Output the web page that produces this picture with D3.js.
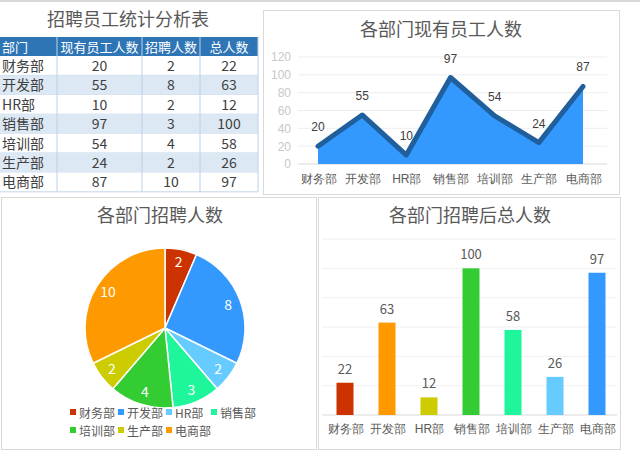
<!DOCTYPE html>
<html><head><meta charset="utf-8">
<script src="https://cdn.jsdelivr.net/npm/d3@7/dist/d3.min.js"></script>
<style>body{margin:0;background:#fff;}svg{display:block;font-family:"Noto Sans CJK SC","Noto Sans",sans-serif;}</style>
</head><body>
<svg id="c" width="640" height="457"></svg>
<script>
const depts = ["财务部","开发部","HR部","销售部","培训部","生产部","电商部"];
const current = [20,55,10,97,54,24,87];
const hired = [2,8,2,3,4,2,10];
const totals = [22,63,12,100,58,26,97];
const headers = ["部门","现有员工人数","招聘人数","总人数"];
const yTicks = [0,20,40,60,80,100,120];
const pieColors = ["#cc3300","#3399ff","#66ccff","#1ff59a","#33cc33","#cccc00","#ff9900"];
const barColors = ["#cc3300","#ff9900","#cccc00","#33cc33","#1ff59a","#66ccff","#3399ff"];

const svg = d3.select("#c");
svg.append("rect").attr("x",0).attr("y",0).attr("width",640).attr("height",2).attr("fill","#d9d9d9");

// ---------- Table ----------
const tg = svg.append("g");
tg.append("text").attr("x",128).attr("y",26).attr("text-anchor","middle")
  .attr("font-size",18).attr("fill","#595959").text("招聘员工统计分析表");
const colX = [0,57,142,200,258];
const rowY0 = 37, hdrH = 19, rowH = 19.4;
tg.append("rect").attr("x",0).attr("y",rowY0).attr("width",258).attr("height",hdrH).attr("fill","#2e75b6");
headers.forEach((h,i)=>{
  tg.append("text").attr("x", i===0?2:(colX[i]+colX[i+1])/2).attr("y",rowY0+14.5)
    .attr("text-anchor", i===0?"start":"middle").attr("font-size",13).attr("fill","#fff").text(h);
});
depts.forEach((d,r)=>{
  const y = rowY0+hdrH+r*rowH;
  tg.append("rect").attr("x",0).attr("y",y).attr("width",258).attr("height",rowH)
    .attr("fill", r%2===1?"#dde8f5":"#fff");
  const vals=[d,current[r],hired[r],totals[r]];
  vals.forEach((v,i)=>{
    tg.append("text").attr("x", i===0?2:(colX[i]+colX[i+1])/2).attr("y",y+15)
      .attr("text-anchor", i===0?"start":"middle").attr("font-size",14).attr("fill","#404040").text(v);
  });
  tg.append("line").attr("x1",0).attr("x2",258).attr("y1",y+rowH).attr("y2",y+rowH).attr("stroke","#c5d6ea").attr("stroke-width",1);
});
[57,142,200].forEach(x=>{
  tg.append("line").attr("x1",x).attr("x2",x).attr("y1",rowY0).attr("y2",rowY0+hdrH+7*rowH).attr("stroke","#bdd0e6");
});
tg.append("line").attr("x1",258).attr("x2",258).attr("y1",rowY0).attr("y2",rowY0+hdrH+7*rowH).attr("stroke","#bdd0e6");

// ---------- Line/area chart ----------
const lg = svg.append("g");
lg.append("rect").attr("x",263.5).attr("y",10.5).attr("width",356).attr("height",184).attr("fill","#fff").attr("stroke","#d9d9d9");
lg.append("text").attr("x",441).attr("y",36).attr("text-anchor","middle").attr("font-size",18).attr("fill","#595959").text("各部门现有员工人数");
const lx = d3.scalePoint().domain(depts).range([318,583]);
const ly = d3.scaleLinear().domain([0,120]).range([164,57]);
yTicks.forEach(t=>{
  lg.append("line").attr("x1",298).attr("x2",607).attr("y1",ly(t)).attr("y2",ly(t)).attr("stroke", t===0?"#d9d9d9":"#eeeeee");
});
const yAxis = d3.axisLeft(ly).tickValues(yTicks).tickSize(0).tickPadding(0);
const ya = lg.append("g").attr("transform","translate(291,0)").call(yAxis);
ya.select(".domain").remove();
ya.selectAll("text").attr("font-size",12).attr("fill","#c8c8c8").attr("font-family","Liberation Sans, sans-serif");
const area = d3.area().x((d,i)=>lx(depts[i])).y0(ly(0)).y1(d=>ly(d));
lg.append("path").datum(current).attr("d",area).attr("fill","#3399ff");
const line = d3.line().x((d,i)=>lx(depts[i])).y(d=>ly(d));
lg.append("path").datum(current).attr("d",line).attr("fill","none").attr("stroke","#1f5f9c").attr("stroke-width",5).attr("stroke-linejoin","round").attr("stroke-linecap","round");
current.forEach((v,i)=>{
  lg.append("text").attr("x",lx(depts[i])).attr("y",ly(v)-15).attr("text-anchor","middle").attr("font-size",12)
    .attr("font-family","Liberation Sans, sans-serif").attr("fill","#404040").text(v);
});
const xa = lg.append("g").attr("transform","translate(0,164)").call(d3.axisBottom(lx).tickSize(0).tickPadding(10));
xa.select(".domain").remove();
xa.selectAll("text").attr("font-size",12).attr("fill","#595959");

// ---------- Pie ----------
const pg = svg.append("g");
pg.append("rect").attr("x",1.5).attr("y",197.5).attr("width",315).attr("height",252).attr("fill","#fff").attr("stroke","#d9d9d9");
pg.append("text").attr("x",160).attr("y",222).attr("text-anchor","middle").attr("font-size",18).attr("fill","#595959").text("各部门招聘人数");
const pie = d3.pie().sort(null).value(d=>d);
const arcs = pie(hired);
const r = 80;
const arc = d3.arc().innerRadius(0).outerRadius(r);
const labelArc = d3.arc().innerRadius(r*0.84).outerRadius(r*0.84);
const pc = pg.append("g").attr("transform","translate(165,328)");
pc.selectAll("path").data(arcs).join("path").attr("d",arc).attr("fill",(d,i)=>pieColors[i]).attr("stroke","#fff").attr("stroke-width",1.5);
pc.selectAll("text").data(arcs).join("text").attr("transform",d=>`translate(${labelArc.centroid(d)})`)
  .attr("text-anchor","middle").attr("dy","0.35em").attr("font-size",14).attr("fill","#fff").text(d=>d.data);
const legRows = [[0,1,2,3],[4,5,6]];
const legX = [[70,118,166,211],[70,118,166]];
legRows.forEach((row,ri)=>{
  row.forEach((idx,j)=>{
    const x = legX[ri][j], y = 413+ri*18;
    pg.append("rect").attr("x",x).attr("y",y-4).attr("width",6).attr("height",6).attr("fill",pieColors[idx]);
    pg.append("text").attr("x",x+9).attr("y",y+4.5).attr("font-size",12).attr("fill","#595959").text(depts[idx]);
  });
});

// ---------- Bar chart ----------
const bg = svg.append("g");
bg.append("rect").attr("x",318.5).attr("y",197.5).attr("width",302).attr("height",252).attr("fill","#fff").attr("stroke","#d9d9d9");
bg.append("text").attr("x",470).attr("y",222).attr("text-anchor","middle").attr("font-size",18).attr("fill","#595959").text("各部门招聘后总人数");
const by = d3.scaleLinear().domain([0,120]).range([415,239]);
yTicks.forEach(t=>{
  bg.append("line").attr("x1",322).attr("x2",617).attr("y1",by(t)).attr("y2",by(t)).attr("stroke", t===0?"#d9d9d9":"#f0f0f0");
});
const bcx = d3.scalePoint().domain(depts).range([345,597]);
const bw = 17;
bg.selectAll("rect.bar").data(totals).join("rect").attr("class","bar")
  .attr("x",(d,i)=>bcx(depts[i])-bw/2).attr("width",bw)
  .attr("y",d=>by(d)).attr("height",d=>by(0)-by(d)).attr("fill",(d,i)=>barColors[i]);
totals.forEach((v,i)=>{
  bg.append("text").attr("x",bcx(depts[i])).attr("y",by(v)-9).attr("text-anchor","middle").attr("font-size",13)
    .attr("fill","#595959").text(v);
});
const bxa = bg.append("g").attr("transform","translate(0,415)").call(d3.axisBottom(bcx).tickSize(0).tickPadding(9));
bxa.select(".domain").remove();
bxa.selectAll("text").attr("font-size",12).attr("fill","#595959");
</script>
</body></html>
